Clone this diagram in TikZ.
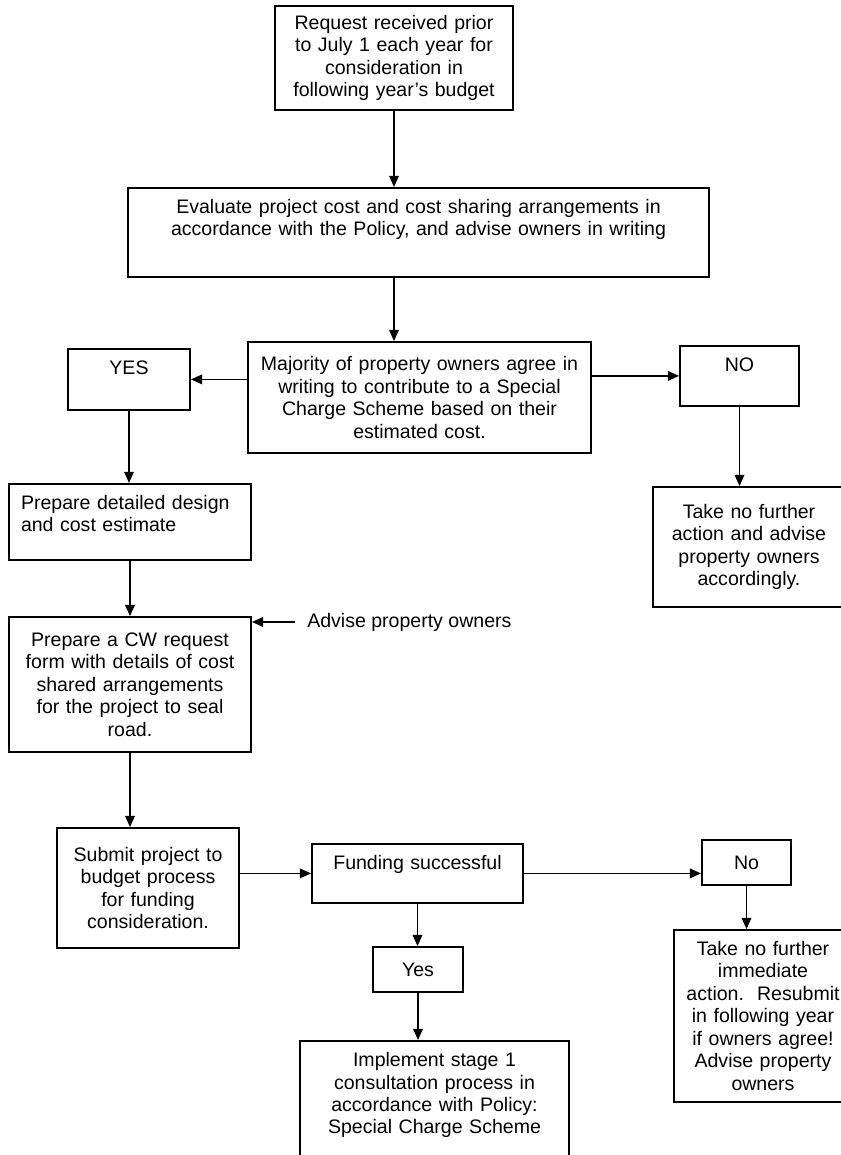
\documentclass[tikz,border=0pt]{standalone}
\usepackage{fontspec}
\setmainfont{Liberation Sans}
\usepackage{tikz}
\usetikzlibrary{arrows.meta}
\newcommand{\flowfont}{\fontsize{13.9}{16}\selectfont}
\tikzset{
  box/.style={draw=black, line width=1.3pt, fill=white,
              inner xsep=0.1cm, align=center, font=\flowfont},
  topbox/.style={box, anchor=north, inner ysep=0.29cm, text height=0.35cm},
  flow/.style={-{Triangle[length=2.8mm,width=2.4mm]}, line width=1.2pt},
  note/.style={font=\flowfont, inner xsep=0.3cm, anchor=west},
}

\begin{document}
\begin{tikzpicture}[x=1cm,y=1cm]
  \path[use as bounding box] (0,0) rectangle (21.025,28.875);

  % Request and evaluation.
  \node[box, text width=5.75cm, minimum height=2.6cm] (REQ) at (9.85,27.425)
    {Request received prior\\to July 1 each year for\\consideration in\\following year's budget};
  \node[topbox, text width=14.325cm, text depth=1.295cm] (EVAL) at (10.4625,24.2)
    {Evaluate project cost and cost sharing arrangements in\\accordance with the Policy, and advise owners in writing};
  \draw[flow] (REQ.south) -- (REQ.south |- EVAL.north);

  % Owners' agreement and the two answers.
  \node[box, text width=8.375cm, minimum height=2.775cm] (AGREE) at (10.4875,18.9375)
    {Majority of property owners agree in\\writing to contribute to a Special\\Charge Scheme based on their\\estimated cost.};
  \draw[flow] (EVAL.south -| REQ.south) -- (REQ.south |- AGREE.north);

  \node[topbox, text width=2.85cm, text depth=0.595cm] (YES) at (3.225,20.175) {YES};
  \node[topbox, text width=2.775cm, text depth=0.57cm] (NO) at (18.4875,20.25) {NO};
  \draw[flow] (AGREE.west |- YES) -- (YES.east);
  \draw[flow] (AGREE.east |- NO) -- (NO.west);

  \node[topbox, align=left, inner xsep=0.3cm, text width=5.45cm, text depth=0.97cm] (DESIGN) at (3.25,16.8)
    {Prepare detailed design\\and cost estimate};
  \draw[flow] (YES.south) -- (YES.south |- DESIGN.north);

  \node[box, text width=4.6cm, minimum height=3cm] (STOPA) at (18.725,15.2)
    {Take no further\\action and advise\\property owners\\accordingly.};
  \draw[flow] (NO.south) -- (NO.south |- STOPA.north);

  % CW request form.
  \node[box, text width=5.85cm, minimum height=3.375cm] (CWFORM) at (3.25,11.7625)
    {Prepare a CW request\\form with details of cost\\shared arrangements\\for the project to seal\\road.};
  \draw[flow] (DESIGN.south) -- (DESIGN.south |- CWFORM.north);
  \node[note] (ADVISE) at (7.375,13.325) {Advise property owners};
  \draw[flow] (ADVISE.west) -- (CWFORM.east |- ADVISE.west);

  % Budget process.
  \node[box, text width=4.35cm, minimum height=3cm] (SUBMIT) at (3.7,6.675)
    {Submit project to\\budget process\\for funding\\consideration.};
  \draw[flow] (CWFORM.south) -- (CWFORM.south |- SUBMIT.north);

  \node[topbox, text width=5.075cm, text depth=0.545cm] (FUND) at (10.4375,7.8)
    {Funding successful};
  \draw[flow] (SUBMIT.east |- FUND) -- (FUND.west);

  \node[box, text width=2.025cm, minimum height=1.125cm] (FNO) at (18.6625,7.3125) {No};
  \draw[flow] (FUND.east) -- (FUND.east -| FNO.west);

  \node[box, text width=2.05cm, minimum height=1.125cm] (FYES) at (10.45,4.6375) {Yes};
  \draw[flow] (FUND.south) -- (FUND.south |- FYES.north);

  \node[box, text width=4.25cm, minimum height=4.3cm] (STOPB) at (19.075,3.475)
    {Take no further\\immediate\\action.\ \ Resubmit\\in following year\\if owners agree!\\Advise property\\owners};
  \draw[flow] (FNO.south) -- (FNO.south |- STOPB.north);

  \node[topbox, text width=6.525cm, text depth=2.445cm] (IMPL) at (10.8625,2.875)
    {Implement stage 1\\consultation process in\\accordance with Policy:\\Special Charge Scheme};
  \draw[flow] (FYES.south) -- (FYES.south |- IMPL.north);
\end{tikzpicture}
\end{document}
